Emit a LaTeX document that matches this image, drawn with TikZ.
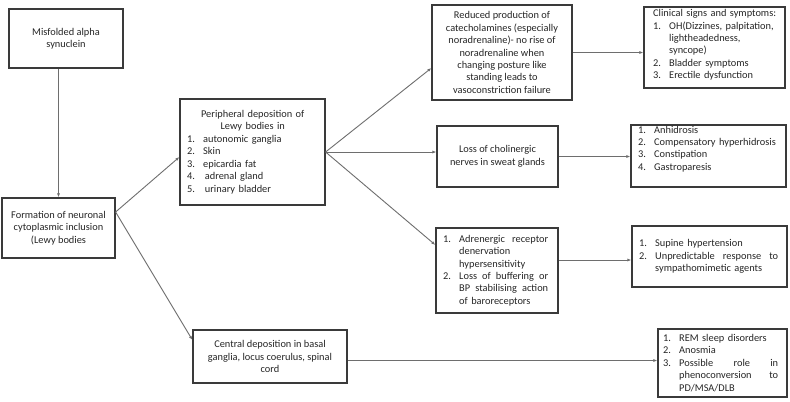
\documentclass[tikz,border=0pt]{standalone}
\usepackage{fontspec}
\setmainfont{Carlito}
\usetikzlibrary{arrows.meta,calc}
\definecolor{boxc}{HTML}{3A3A3A}
\definecolor{linec}{HTML}{6E6E6E}
\definecolor{txtc}{HTML}{262626}
\newcommand\nb[1]{\makebox[16bp][l]{#1}}
\newcommand\Li[2]{\nb{#1}\mbox{#2}}
\newcommand\Lj[2]{\nb{#1}\makebox[\dimexpr\hsize-16bp\relax][s]{\spaceskip=0pt plus 1fil\relax #2}}
\begin{document}
\begin{tikzpicture}[x=1bp,y=-1bp,
  font=\fontsize{10.4}{12.5}\selectfont,
  box/.style={draw=boxc,line width=1.2bp,inner sep=0,rectangle},
  txt/.style={inner sep=0,align=center,text=txtc},
  lst/.style={inner sep=0,align=left,text=txtc,anchor=west},
  conn/.style={draw=linec,line width=0.9bp,-{Latex[length=4bp,width=3bp]}}]
\fill[white] (0,0) rectangle (790,401);
\useasboundingbox (0,0) rectangle (790,401);
% boxes
\node[box,minimum width=114bp,minimum height=59bp] (A) at (66,38.5) {};
\node[box,minimum width=113bp,minimum height=60bp] (B) at (58.5,228) {};
\node[box,minimum width=145bp,minimum height=106bp] (C) at (252.5,152) {};
\node[box,minimum width=140bp,minimum height=95bp] (D) at (502,52.5) {};
\node[box,minimum width=141bp,minimum height=81bp] (H) at (714.5,47.5) {};
\node[box,minimum width=121bp,minimum height=61bp] (F) at (497.5,156.5) {};
\node[box,minimum width=155bp,minimum height=62bp] (I) at (708.5,156) {};
\node[box,minimum width=122bp,minimum height=85bp] (G) at (497,270.5) {};
\node[box,minimum width=155bp,minimum height=61bp] (J) at (709.5,256.5) {};
\node[box,minimum width=154bp,minimum height=53bp] (E) at (270,356.5) {};
\node[box,minimum width=129bp,minimum height=68bp] (K) at (722.5,363) {};
% texts
\node[txt] (At) at (A.center) {Misfolded alpha\\synuclein};
\node[txt] (Bt) at (B.center) {Formation of neuronal\\cytoplasmic inclusion\\(Lewy bodies};
\node[lst,text width=131bp] (Ct) at (187,152) {\makebox[\hsize][c]{Peripheral deposition of}\\
  \makebox[\hsize][c]{Lewy bodies in}\\
  \Li{1.}{autonomic ganglia}\\
  \Li{2.}{Skin}\\
  \Li{3.}{epicardia fat}\\
  \Li{4.}{\,adrenal gland}\\
  \Li{5.}{\,urinary bladder}};
\node[txt] (Dt) at (D.center) {Reduced production of\\catecholamines (especially\\noradrenaline)- no rise of\\noradrenaline when\\changing posture like\\standing leads to\\vasoconstriction failure};
\node[lst,text width=127bp] (Ht) at (653,45) {\mbox{Clinical signs and symptoms:}\\
  \Li{1.}{OH(Dizzines, palpitation,}\\
  \Li{}{lightheadedness,}\\
  \Li{}{syncope)}\\
  \Li{2.}{Bladder symptoms}\\
  \Li{3.}{Erectile dysfunction}};
\node[txt] (Ft) at (F.center) {Loss of cholinergic\\nerves in sweat glands};
\node[lst,text width=140bp] (It) at (638,149) {\Li{1.}{Anhidrosis}\\
  \Li{2.}{Compensatory hyperhidrosis}\\
  \Li{3.}{Constipation}\\
  \Li{4.}{Gastroparesis}};
\node[lst,text width=105bp] (Gt) at (443,270.5) {\Lj{1.}{Adrenergic receptor}\\
  \Li{}{denervation}\\
  \Li{}{hypersensitivity}\\
  \Lj{2.}{Loss of buffering or}\\
  \Lj{}{BP stabilising action}\\
  \Li{}{of baroreceptors}};
\node[lst,text width=139bp] (Jt) at (639,256.5) {\Li{1.}{Supine hypertension}\\
  \Lj{2.}{Unpredictable response to}\\
  \Li{}{sympathomimetic agents}};
\node[txt] (Et) at (E.center) {Central deposition in basal\\ganglia, locus coerulus, spinal\\cord};
\node[lst,text width=115bp] (Kt) at (663,363) {\Li{1.}{REM sleep disorders}\\
  \Li{2.}{Anosmia}\\
  \Lj{3.}{Possible role in}\\
  \Lj{}{phenoconversion to}\\
  \Li{}{PD/MSA/DLB}};
% connectors
\draw[conn] (A.south -| B.north) -- (B.north);
\draw[conn] ([yshift=16bp]B.east) -- ([yshift=-5bp]C.west);
\draw[conn] ([yshift=16bp]B.east) -- ([yshift=16.5bp]E.west);
\draw[conn] (C.east) -- ([yshift=-15.5bp]D.west);
\draw[conn] (C.east) -- (C.east -| F.west);
\draw[conn] (C.east) -- ([yshift=25.5bp]G.west);
\draw[conn] (D.east) -- (D.east -| H.west);
\draw[conn] (F.east) -- (F.east -| I.west);
\draw[conn] ([yshift=10.5bp]G.east) -- ([yshift=10.5bp]G.east -| J.west);
\draw[conn] ([yshift=-4bp]E.east) -- ([yshift=-4bp]E.east -| K.west);
\end{tikzpicture}
\end{document}
